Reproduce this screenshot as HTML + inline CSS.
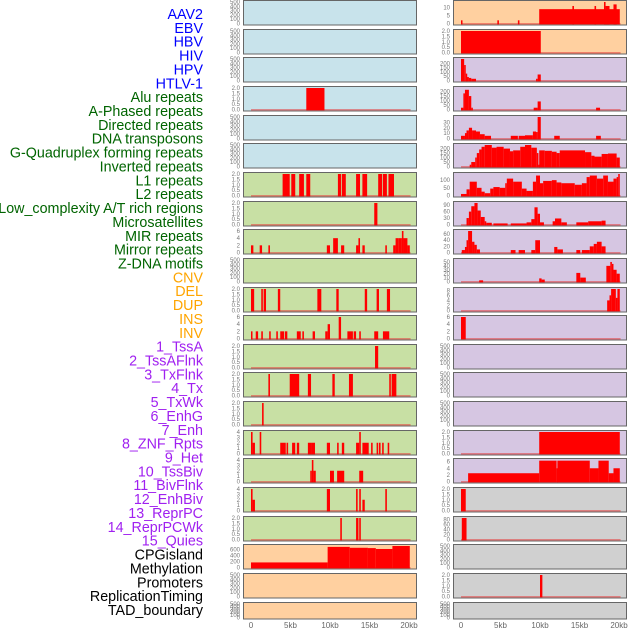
<!DOCTYPE html>
<html><head><meta charset="utf-8">
<style>
body{margin:0;background:#fff;}
svg{display:block;font-family:"Liberation Sans",sans-serif;}
</style></head>
<body>
<svg id="chart" width="630" height="630" viewBox="0 0 630 630"></svg>
<script>
const NS="http://www.w3.org/2000/svg";
const svg=document.getElementById('chart');
const trackLabels=["AAV2","EBV","HBV","HIV","HPV","HTLV-1","Alu repeats","A-Phased repeats","Directed repeats","DNA transposons","G-Quadruplex forming repeats","Inverted repeats","L1 repeats","L2 repeats","Low_complexity A/T rich regions","Microsatellites","MIR repeats","Mirror repeats","Z-DNA motifs","CNV","DEL","DUP","INS","INV","1_TssA","2_TssAFlnk","3_TxFlnk","4_Tx","5_TxWk","6_EnhG","7_Enh","8_ZNF_Rpts","9_Het","10_TssBiv","11_BivFlnk","12_EnhBiv","13_ReprPC","14_ReprPCWk","15_Quies","CPGisland","Methylation","Promoters","ReplicationTiming","TAD_boundary"];
const labelColors=["#0000ff","#0000ff","#0000ff","#0000ff","#0000ff","#0000ff","#006400","#006400","#006400","#006400","#006400","#006400","#006400","#006400","#006400","#006400","#006400","#006400","#006400","#ffa500","#ffa500","#ffa500","#ffa500","#ffa500","#a020f0","#a020f0","#a020f0","#a020f0","#a020f0","#a020f0","#a020f0","#a020f0","#a020f0","#a020f0","#a020f0","#a020f0","#a020f0","#a020f0","#a020f0","#000","#000","#000","#000","#000"];
const xTicks=[0,5,10,15,20];
const xTickLabels=["0","5kb","10kb","15kb","20kb"];
const E500=[0,100,200,300,400,500];
const T2=[0,0.5,1,1.5,2];
const leftBg=["b","b","b","b","b","b","g","g","g","g","g","g","g","g","g","g","g","g","g","o","o","o"];
const leftTicks=[E500,E500,E500,T2,E500,E500,T2,T2,[0,2,4,6],E500,T2,[0,2,4,6],T2,T2,T2,[0,1,2,3,4],[0,1,2,3,4],[0,1,2,3,4],T2,[0,200,400,600],E500,E500];
const leftMax=[500,500,500,2,500,500,2,2,6,500,2,6,2,2,2,4,4,4,2,720,500,500];
const leftSegs=[[],[],[],[[7.0,9.3,2]],[],[],
[[4.0,4.9,2],[5.1,5.6,2],[6.1,6.7,2],[7.0,7.5,2],[11.0,11.4,2],[11.5,12.0,2],[13.3,13.8,2],[14.1,14.7,2],[16.1,16.6,2],[16.7,17.2,2],[17.4,18.1,2]],
[[15.6,16.0,2]],
[[0,0.3,2],[1.1,1.4,2],[2.2,2.4,2],[9.6,10.0,2],[10.4,11.0,4],[11.4,11.8,2],[13.3,13.6,2],[13.6,13.8,4],[14.1,14.4,2],[17.0,17.2,2],[18.0,18.3,2],[18.3,18.7,4],[18.7,19.1,4],[19.1,19.3,6],[19.3,19.8,4],[19.8,20.1,2]],
[],
[[0,0.4,2],[1.3,1.5,2],[1.6,1.9,2],[3.4,3.7,2],[8.4,8.9,2],[10.8,11.1,2],[14.4,14.7,2],[15.9,16.2,2],[17.2,17.6,2]],
[[0,0.1,2],[0.6,0.9,2],[1.3,1.5,2],[2.3,2.5,2],[3.2,3.4,2],[3.7,4.2,2],[4.3,4.6,2],[5.8,6.3,2],[6.5,6.7,2],[7.8,8.1,2],[9.4,9.7,2],[9.7,10.0,4],[11.1,11.4,6],[12.2,12.9,2],[13.0,13.3,2],[13.7,13.9,2],[15.6,16.1,2],[16.7,17.5,2]],
[[15.7,16.1,2]],
[[2.2,2.4,2],[4.9,6.1,2],[7.2,7.6,2],[10.3,10.6,2],[12.4,12.9,2],[17.5,17.7,2],[17.8,18.4,2]],
[[1.4,1.6,2]],
[[0,0.2,4],[0.2,0.5,2],[1.1,1.3,4],[3.7,4.4,2],[4.5,4.7,2],[5.2,5.6,2],[5.8,6.1,2],[7.2,7.6,2],[7.6,8.1,2],[9.6,10.0,2],[10.9,11.1,2],[11.5,11.8,2],[13.3,13.7,2],[13.7,13.9,4],[14.1,14.9,2],[15.2,15.4,2],[15.9,16.1,2],[16.2,16.4,2],[16.6,16.8,2],[17.3,17.5,2]],
[[7.5,7.7,2],[7.7,7.9,4],[7.9,8.2,2],[10.0,10.5,2],[10.9,11.8,2],[13.7,14.2,2]],
[[0,0.2,4],[0.2,0.5,2],[9.6,10.0,4],[13.3,13.5,4],[13.7,13.9,4],[14.1,14.4,2],[17.0,17.2,4]],
[[11.3,11.5,2],[13.3,13.6,2],[13.7,13.9,2]],
[[0,9.7,170],[9.7,12.5,690],[12.5,14.8,660],[14.8,15.8,650],[15.8,17.9,620],[17.9,20.1,720]],
[],[]];
const rightBg=["o","o","p","p","p","p","p","p","p","p","p","p","p","p","p","p","p","s","s","s","s","s"];
const rightTicks=[[0,5,10],T2,[0,50,100,150,200],[0,50,100,150,200],[0,10,20,30],[0,50,100,150,200],[0,50,100],[0,30,60,90],[0,20,40,60],[0,10,20,30,40,50],[0,2,4,6,8],[0,2,4,6],E500,E500,E500,T2,[0,2,4,6],T2,[0,20,40,60,80],E500,T2,E500];
const rightMax=[13.5,2,250,240,40,240,140,100,70,55,8.5,6,500,500,500,2,6.5,2,85,500,2,500];
const rightSegs=[
[[0,0.15,2],[4.6,4.8,2],[7.2,7.4,2],[9.9,20.1,9],[14.1,14.3,11],[16.9,17.1,11],[18.1,18.3,13.5],[18.3,18.8,11],[19.3,19.7,12]],
[[0,10.1,2]],
[[0,0.4,250],[0.4,0.6,180],[0.6,0.7,80],[0.7,1.0,40],[1.0,1.3,30],[1.3,1.9,20],[9.5,9.7,20],[9.7,10.1,70]],
[[0,0.3,20],[0.3,0.5,180],[0.5,1.0,220],[1.0,1.3,150],[1.3,1.5,20],[9.2,9.7,20],[9.7,10.1,90],[17.1,17.6,20]],
[[0,0.5,5],[0.5,0.7,10],[0.7,1.0,15],[1.0,1.4,20],[1.4,1.9,15],[1.9,2.4,13],[2.4,3.0,8],[3.0,3.8,5],[6.3,7.2,5],[7.3,8.1,5],[8.1,9.1,6],[9.1,9.5,13],[9.5,9.7,12],[9.7,10.1,40],[11.8,12.5,5],[17.1,17.7,5]],
[[1.1,1.3,20],[1.3,1.8,50],[1.8,2.0,100],[2.0,2.3,150],[2.3,2.6,190],[2.6,3.0,220],[3.0,3.9,240],[3.9,4.5,210],[4.5,5.4,220],[5.4,6.2,200],[6.2,6.6,170],[6.6,7.5,180],[7.5,8.1,220],[8.1,8.9,240],[8.9,9.6,210],[9.6,9.8,150],[9.8,9.9,20],[9.9,10.6,180],[10.6,11.5,175],[11.5,12.1,165],[12.1,12.5,150],[12.5,15.7,180],[15.7,16.5,160],[16.5,16.9,120],[16.9,17.8,110],[17.8,18.6,140],[18.6,19.7,145],[19.7,20.1,100]],
[[0,0.7,10],[0.7,1.1,40],[1.1,2.0,90],[2.0,2.6,50],[2.6,3.0,25],[3.0,3.7,15],[3.7,4.1,45],[4.1,4.9,55],[4.9,5.6,50],[5.6,5.8,80],[5.8,6.6,110],[6.6,7.7,90],[7.7,8.3,45],[8.3,9.1,30],[9.1,9.5,90],[9.5,10.0,130],[10.0,10.4,80],[10.4,11.5,95],[11.5,12.1,100],[12.1,12.7,85],[12.7,14.4,80],[14.4,15.3,70],[15.3,15.9,80],[15.9,16.3,120],[16.3,17.2,130],[17.2,18.0,110],[18.0,18.6,130],[18.6,19.3,90],[19.3,19.7,110],[19.7,19.9,120],[19.9,20.1,140]],
[[0.7,1.0,30],[1.0,1.3,60],[1.3,1.7,85],[1.7,2.1,100],[2.1,2.5,65],[2.5,3.0,35],[3.0,3.2,15],[3.2,3.9,8],[4.1,5.9,5],[6.3,8.3,5],[8.3,8.9,10],[8.9,9.3,25],[9.3,9.7,80],[9.7,10.0,50],[10.0,10.5,10],[11.6,11.9,15],[11.9,12.7,28],[12.7,13.4,10],[14.6,16.1,10],[16.1,17.8,15],[17.8,18.3,18]],
[[0.1,0.5,8],[0.5,0.7,18],[0.7,0.9,40],[0.9,1.4,70],[1.4,1.7,35],[1.7,2.0,25],[2.0,2.4,10],[6.3,6.9,8],[7.3,8.1,8],[8.9,9.4,8],[9.4,10.0,40],[11.8,12.2,18],[12.2,12.9,10],[14.6,15.1,8],[15.3,16.3,8],[16.3,16.8,20],[16.8,17.2,28],[17.2,17.8,35],[17.8,18.3,20]],
[[2.3,2.8,3],[9.9,10.2,8],[10.2,10.6,5],[14.6,15.1,22],[15.1,15.8,10],[18.4,18.9,40],[18.9,19.1,50],[19.1,19.3,45],[19.3,19.7,30],[19.7,20.1,20]],
[[18.5,18.8,4],[18.8,19.0,6],[19.0,19.6,8.5],[19.6,19.8,5],[19.8,20.1,8.5]],
[[0,0.6,6]],
[],[],[],
[[9.9,20.1,2]],
[[0.9,9.9,2.5],[9.9,12.1,6.3],[12.1,12.2,4],[12.2,16.3,6.3],[16.3,17.4,4],[17.4,18.7,6.3],[18.7,19.3,2.5],[19.3,20.1,4]],
[[0,0.6,2]],
[[0.1,0.7,85]],
[],
[[10.0,10.3,2]],
[]];
const bgColor={b:"#c8e3eb",g:"#c8e0a4",o:"#ffd0a0",p:"#d6c6e2",s:"#d0d0d0"};
function el(tag,attrs,parent){const e=document.createElementNS(NS,tag);for(const k in attrs)e.setAttribute(k,attrs[k]);(parent||svg).appendChild(e);return e;}

trackLabels.forEach((t,i)=>{
  const tx=el('text',{x:203,y:19+i*13.86,'text-anchor':'end','font-size':'14.3',fill:labelColors[i]});
  
  
  tx.textContent=t;
});

function panelTop(i){return Math.round(i*28.65);}
function drawColumn(x0,x1,zeroX,bgs,ticks,maxs,segs,side){
  const xs=kb=>zeroX+kb*7.9;
  for(let i=0;i<bgs.length;i++){
    const top=panelTop(i)+0.5;
    const h=(i===bgs.length-1)?16.5:24.5;
    const g=el('g',{});
    
    
    el('rect',{x:x0+0.5,y:top,width:x1-x0,height:h,fill:bgColor[bgs[i]],stroke:'#666','stroke-width':1},g);
    const yb=top+h-1.5, yt=top+1.5;
    const ys=v=>yb-(v/maxs[i])*(yb-yt);
    const tickMax=ticks[i][ticks[i].length-1];
    const ysT=v=>yb-(v/tickMax)*(yb-yt);
    const yTick=maxs[i]>tickMax?ys:ysT;
    const dec=ticks[i].some(v=>v%1!==0);
    ticks[i].forEach(v=>{
      const t=el('text',{x:x0-3,y:yTick(v)+2,'text-anchor':'end','font-size':'6',fill:'#777'},g);
      
      
      t.textContent=dec?v.toFixed(1):String(v);
    });
    if(segs[i].length){
      el('line',{x1:xs(0),x2:xs(20.2),y1:yb+0.3,y2:yb+0.3,stroke:'rgba(230,60,60,0.55)','stroke-width':1.6},g);
    }
    segs[i].forEach(s=>{
      const xa=xs(s[0]);let w=xs(s[1])-xa;if(w<1.5)w=1.5;
      const r=el('rect',{x:xa,y:ys(s[2]),width:w,height:yb+0.8-ys(s[2]),fill:'#ff0000'},g);
      
      
    });
  }
  xTicks.forEach((v,j)=>{
    const t=el('text',{x:xs(v),y:628,'text-anchor':'middle','font-size':'8',fill:'#666'});
    
    
    t.textContent=xTickLabels[j];
  });
}
drawColumn(243,416,251,leftBg,leftTicks,leftMax,leftSegs,'left');
drawColumn(453,626,461,rightBg,rightTicks,rightMax,rightSegs,'right');
</script>
</body></html>
